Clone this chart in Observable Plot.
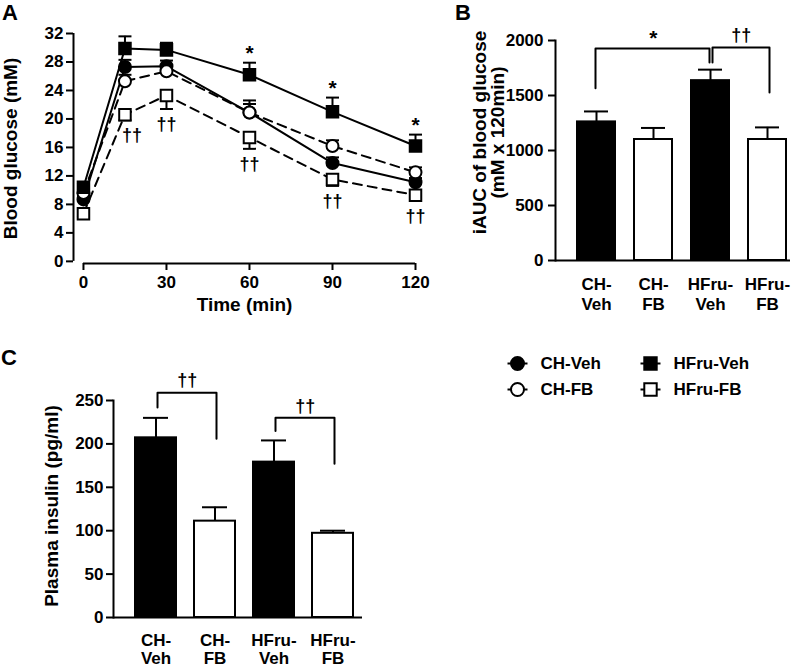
<!DOCTYPE html>
<html>
<head>
<meta charset="utf-8">
<script src="https://cdn.jsdelivr.net/npm/d3@7"></script>
<script src="https://cdn.jsdelivr.net/npm/@observablehq/plot@0.6"></script>
<style>
  html, body { margin: 0; padding: 0; background: #fff; }
  #fig { position: relative; width: 796px; height: 668px; overflow: hidden;
         font-family: "Liberation Sans", Arial, Helvetica, sans-serif; color: #000; }
  .panel { position: absolute; }
  .panel svg { display: block; overflow: visible; }
  .tag { position: absolute; font-weight: bold; font-size: 22px; line-height: 22px; }
</style>
</head>
<body>
<div id="fig"></div>
<script>
// ---------------- Panel A: blood glucose (mM) during OGTT ----------------
const timesMin   = [0, 15, 30, 60, 90, 120];
const chVehMean  = [8.7, 27.3, 27.4, 20.9, 13.8, 11.1];
const chVehSem   = [0.4, 1.0, 0.8, 1.2, 0.8, 0.6];
const chFbMean   = [9.6, 25.3, 26.7, 20.9, 16.2, 12.5];
const chFbSem    = [0.5, 0.9, 0.8, 1.7, 0.8, 0.7];
const hfVehMean  = [10.4, 29.9, 29.7, 26.2, 21.0, 16.2];
const hfVehSem   = [0.5, 1.7, 1.0, 1.7, 2.0, 1.6];
const hfFbMean   = [6.7, 20.6, 23.3, 17.4, 11.5, 9.3];
const hfFbSem    = [0.4, 0.8, 1.9, 1.6, 0.9, 0.8];
const glucoseTicks = [0, 4, 8, 12, 16, 20, 24, 28, 32];
const timeTicks    = [0, 30, 60, 90, 120];
const starTimes    = [60, 90, 120];          // * HFru-Veh vs CH-Veh
const daggerTimes  = [15, 30, 60, 90, 120];  // †† HFru-FB vs HFru-Veh

// ---------------- Groups ----------------
const groupNames = ["CH-Veh", "CH-FB", "HFru-Veh", "HFru-FB"];

// ---------------- Panel B: iAUC of blood glucose ----------------
const iaucMean  = [1260, 1100, 1635, 1100];
const iaucSem   = [95, 105, 100, 110];
const iaucTicks = [0, 500, 1000, 1500, 2000];
const bracketBFrom   = ["CH-Veh", "HFru-Veh"];
const bracketBTo     = ["HFru-Veh", "HFru-FB"];
const bracketBLabel  = ["*", "††"];
const bracketBTop    = [1927, 1936];
const bracketBFromEnd= [1565, 1800];
const bracketBToEnd  = [1800, 1527];

// ---------------- Panel C: plasma insulin (pg/ml) ----------------
const insulinMean  = [207, 111, 179, 97];
const insulinSem   = [23, 16, 25, 3];
const insulinTicks = [0, 50, 100, 150, 200, 250];
const bracketCFrom   = ["CH-Veh", "HFru-Veh"];
const bracketCTo     = ["CH-FB", "HFru-FB"];
const bracketCLabel  = ["††", "††"];
const bracketCTop    = [259, 230];
const bracketCFromEnd= [242, 215];
const bracketCToEnd  = [206, 177];

// ================= rendering =================
const FONT = '"Liberation Sans", Arial, Helvetica, sans-serif';
const LW = 2;
const fig = document.getElementById("fig");
const capSym  = {draw(ctx, size) { const w = Math.sqrt(size / Math.PI); ctx.moveTo(-w, 0); ctx.lineTo(w, 0); }};
const baseStyle = {fontFamily: FONT, fontSize: "17px", fontWeight: "bold", background: "transparent", color: "black", overflow: "visible"};
const intFmt = d3.format("d");

function place(el, left, top) {
  const d = document.createElement("div");
  d.className = "panel"; d.style.left = left + "px"; d.style.top = top + "px";
  d.appendChild(el); fig.appendChild(d);
}
function tag(txt, left, top) {
  const d = document.createElement("div");
  d.className = "tag"; d.textContent = txt; d.style.left = left + "px"; d.style.top = top + "px";
  fig.appendChild(d);
}

// ---- Panel A ----
const seriesA = [
  {name: "CH-Veh",   mean: chVehMean, sem: chVehSem, symbol: "circle", fill: "black", dash: null,  dir: 1},
  {name: "CH-FB",    mean: chFbMean,  sem: chFbSem,  symbol: "circle", fill: "white", dash: "9,6", dir: 1},
  {name: "HFru-FB",  mean: hfFbMean,  sem: hfFbSem,  symbol: "square", fill: "white", dash: "9,6", dir: -1},
  {name: "HFru-Veh", mean: hfVehMean, sem: hfVehSem, symbol: "square", fill: "black", dash: null,  dir: 1}
];
const rowsA = seriesA.flatMap(s => timesMin.map((t, i) => ({
  group: s.name, time: t, mean: s.mean[i], end: s.mean[i] + s.dir * s.sem[i]
})));
const xDomA = [-3.6, 120], yDomA = [-0.3, 32];
const marksA = [
  Plot.ruleX([xDomA[0]], {y1: 0, y2: 32, strokeWidth: LW}),
  Plot.ruleY([yDomA[0]], {x1: 0, x2: 120, strokeWidth: LW}),
  Plot.axisY({ticks: glucoseTicks, tickSize: 7, tickPadding: 3, strokeWidth: LW, label: null}),
  Plot.axisX({ticks: timeTicks, tickSize: 7, tickPadding: 5, strokeWidth: LW, label: null}),
  Plot.text(["Blood glucose (mM)"], {frameAnchor: "left", textAnchor: "middle", lineAnchor: "middle",
    rotate: -90, dx: -63, fontSize: 19}),
  Plot.text(["Time (min)"], {frameAnchor: "bottom", textAnchor: "middle", lineAnchor: "middle", dy: 41, fontSize: 19})
];
for (const s of seriesA) {
  marksA.push(Plot.line(rowsA.filter(d => d.group === s.name),
    {x: "time", y: "mean", stroke: "black", strokeWidth: LW, strokeDasharray: s.dash}));
}
for (const s of seriesA) {
  const rows = rowsA.filter(d => d.group === s.name);
  marksA.push(Plot.ruleX(rows, {x: "time", y1: "mean", y2: "end", strokeWidth: LW}));
  marksA.push(Plot.dot(rows, {x: "time", y: "end", symbol: capSym, r: 6.5, fill: "none", stroke: "black", strokeWidth: LW}));
  marksA.push(Plot.dot(rows, {x: "time", y: "mean", symbol: s.symbol, r: s.symbol === "circle" ? 6 : 6.5,
    fill: s.fill, stroke: "black", strokeWidth: LW}));
}
const endOf = (g, t) => rowsA.find(d => d.group === g && d.time === t).end;
marksA.push(Plot.text(starTimes, {x: d => d, y: d => endOf("HFru-Veh", d), text: () => "*",
  lineAnchor: "middle", dy: -9, fontSize: 21}));
marksA.push(Plot.text(daggerTimes.filter(t => t === 15), {x: d => d, y: d => endOf("HFru-FB", d), text: () => "††",
  lineAnchor: "middle", dy: 15, dx: 7, fontSize: 18}));
marksA.push(Plot.text(daggerTimes.filter(t => t !== 15), {x: d => d, y: d => endOf("HFru-FB", d), text: () => "††",
  lineAnchor: "middle", dy: 15, fontSize: 18}));

const plotA = Plot.plot({
  width: 440, height: 320, marginLeft: 73, marginRight: 25, marginTop: 33, marginBottom: 57,
  x: {domain: xDomA}, y: {domain: yDomA}, style: baseStyle, marks: marksA
});
place(plotA, 0, 0);

// ---- bar panel helper ----
function barPanel(o) {
  const rows = groupNames.map((g, i) => ({
    group: g, mean: o.mean[i], end: o.mean[i] + o.sem[i], fill: g.endsWith("Veh") ? "black" : "white"
  }));
  const rangeW = o.width - o.marginLeft - o.marginRight;
  const step = rangeW / (groupNames.length - o.pi + 2 * o.po);
  const marks = [
    Plot.ruleX(rows, {x: "group", y1: "mean", y2: "end", strokeWidth: LW}),
    Plot.tickY(rows, {x: "group", y: "end", strokeWidth: LW, insetLeft: o.capInset, insetRight: o.capInset}),
    Plot.barY(rows, {x: "group", y: "mean", fill: "fill", stroke: "black", strokeWidth: LW}),
    Plot.ruleY([0], {strokeWidth: LW}),
    Plot.frame({anchor: "left", strokeWidth: LW}),
    Plot.axisY({ticks: o.ticks, tickSize: 7, tickPadding: o.yPad, strokeWidth: LW, label: null, tickFormat: intFmt}),
    Plot.axisX({tickSize: 0, tickPadding: o.xPad, label: null, lineHeight: o.xLineHeight,
      tickFormat: d => d.replace("-", "-\n")}),
    Plot.text([o.label], {frameAnchor: "left", textAnchor: "middle", lineAnchor: "middle", rotate: -90,
      dx: o.labelDx, dy: o.labelDy, fontSize: 19, lineHeight: 0.92})
  ];
  o.brackets.forEach((b) => {
    const pts = [
      {x: b.from, y: b.fromEnd}, {x: b.from, y: b.top}, {x: b.to, y: b.top}, {x: b.to, y: b.toEnd}
    ];
    marks.push(Plot.line(pts, {x: "x", y: "y", stroke: "black", strokeWidth: LW, dx: b.dx}));
    const span = groupNames.indexOf(b.to) - groupNames.indexOf(b.from);
    marks.push(Plot.text([b], {x: d => d.from, y: d => d.top, text: d => d.label,
      dx: span * step / 2 + b.dx, dy: b.label === "*" ? -10 : -12, lineAnchor: "middle",
      fontSize: b.label === "*" ? 21 : 18}));
  });
  return Plot.plot({
    width: o.width, height: o.height, marginLeft: o.marginLeft, marginRight: o.marginRight,
    marginTop: o.marginTop, marginBottom: o.marginBottom,
    x: {domain: groupNames, paddingInner: o.pi, paddingOuter: o.po, align: o.align},
    y: {domain: o.domain}, style: baseStyle, marks
  });
}

const bracketsB = bracketBFrom.map((f, i) => ({from: f, to: bracketBTo[i], label: bracketBLabel[i],
  top: bracketBTop[i], fromEnd: bracketBFromEnd[i], toEnd: bracketBToEnd[i], dx: i === 0 ? -1 : 2}));
const plotB = barPanel({
  width: 356, height: 330, marginLeft: 115, marginRight: 6, marginTop: 40, marginBottom: 70,
  pi: 0.33, po: 0.2, align: 0.87, capInset: 7, yPad: 5, xPad: 15, xLineHeight: 1.18,
  mean: iaucMean, sem: iaucSem, ticks: iaucTicks, domain: [0, 2000],
  label: "iAUC of blood glucose\n(mM x 120min)", labelDx: -66, labelDy: -18, brackets: bracketsB
});
place(plotB, 440, 0);

const bracketsC = bracketCFrom.map((f, i) => ({from: f, to: bracketCTo[i], label: bracketCLabel[i],
  top: bracketCTop[i], fromEnd: bracketCFromEnd[i], toEnd: bracketCToEnd[i], dx: 1.5}));
const plotC = barPanel({
  width: 440, height: 338, marginLeft: 113, marginRight: 78, marginTop: 70, marginBottom: 51,
  pi: 0.31, po: 0.255, align: 0.71, capInset: 8, yPad: 3, xPad: 16, xLineHeight: 1.06,
  mean: insulinMean, sem: insulinSem, ticks: insulinTicks, domain: [0, 250],
  label: "Plasma insulin (pg/ml)", labelDx: -61, labelDy: -3, brackets: bracketsC
});
place(plotC, 0, 330);

// ---- Legend ----
const legendRows = seriesA.map(s => ({group: s.name, diet: s.name.split("-")[0], trt: s.name.split("-")[1],
  symbol: s.symbol, fill: s.fill}));
const legendMarks = [
  Plot.dot(legendRows, {x: "diet", y: "trt", symbol: capSym, r: 10, fill: "none", stroke: "black", strokeWidth: LW})
];
for (const shape of ["circle", "square"]) {
  legendMarks.push(Plot.dot(legendRows.filter(d => d.symbol === shape),
    {x: "diet", y: "trt", symbol: shape, r: shape === "circle" ? 6.5 : 7, fill: "fill", stroke: "black", strokeWidth: LW}));
}
legendMarks.push(Plot.text(legendRows, {x: "diet", y: "trt", text: "group", dx: 23, textAnchor: "start",
  lineAnchor: "middle", fontSize: 17}));
const legend = Plot.plot({
  width: 300, height: 70, marginLeft: 0, marginRight: 0, marginTop: 0, marginBottom: 0,
  x: {type: "point", domain: ["CH", "HFru"], range: [27, 160], padding: 0, axis: null},
  y: {type: "point", domain: ["Veh", "FB"], range: [23, 49], padding: 0, axis: null},
  style: baseStyle, marks: legendMarks
});
place(legend, 490, 340);

// ---- panel tags ----
tag("A", 2, 2);
tag("B", 455, 2);
tag("C", 1, 347);
</script>
</body>
</html>
